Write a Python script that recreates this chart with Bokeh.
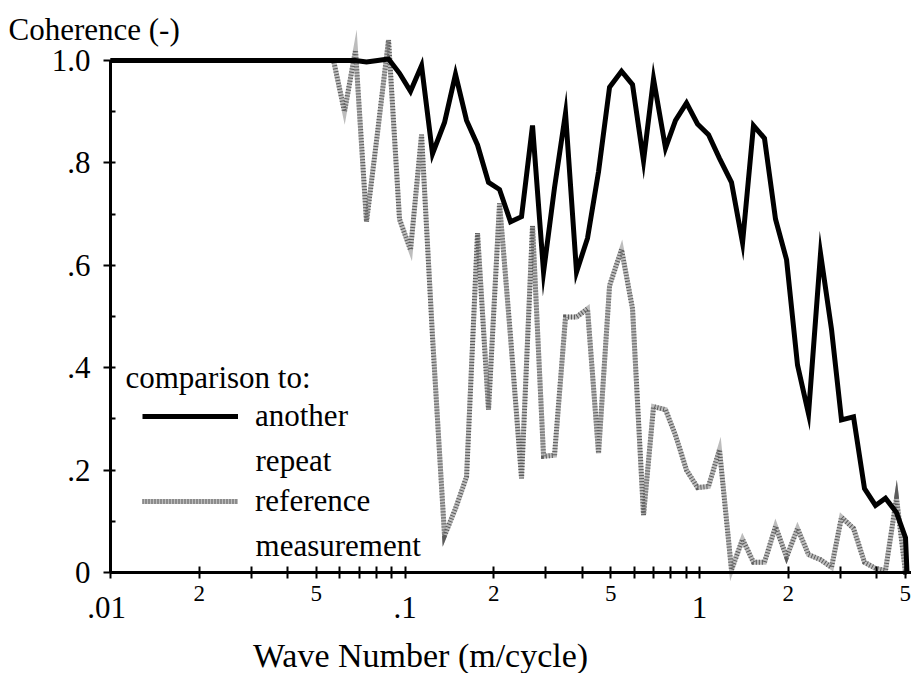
from bokeh.plotting import figure
from bokeh.models import FixedTicker, Range1d, Label, Legend, LegendItem
from bokeh.embed import file_html
from bokeh.resources import INLINE

# Wave number bands (m/cycle) and the coherence of each comparison
wave_number = [
    0.0100, 0.0110, 0.0120, 0.0131, 0.0143, 0.0156, 0.0170, 0.0185, 0.0202, 0.0220,
    0.0240, 0.0262, 0.0286, 0.0312, 0.0340, 0.0371, 0.0404, 0.0441, 0.0481, 0.0524,
    0.0572, 0.0623, 0.0679, 0.0740, 0.0807, 0.0879, 0.0958, 0.1044, 0.1138, 0.1240,
    0.1362, 0.1484, 0.1618, 0.1763, 0.1921, 0.2094, 0.2282, 0.2487, 0.2710, 0.2954,
    0.3219, 0.3508, 0.3823, 0.4166, 0.4541, 0.4949, 0.5435, 0.5923, 0.6455, 0.6980,
    0.7666, 0.8289, 0.9034, 0.9845, 1.073, 1.169, 1.284, 1.400, 1.525, 1.662,
    1.812, 1.975, 2.152, 2.345, 2.576, 2.807, 3.035, 3.334, 3.633, 3.959,
    4.281, 4.666, 5.006, 5.065,
]

another_repeat = [
    1.0, 1.0, 1.0, 1.0, 1.0, 1.0, 1.0, 1.0, 1.0, 1.0,
    1.0, 1.0, 1.0, 1.0, 1.0, 1.0, 1.0, 1.0, 1.0, 1.0,
    1.0, 1.0, 1.0, 0.997, 1.0, 1.003, 0.975, 0.94, 0.99, 0.818,
    0.879, 0.973, 0.883, 0.835, 0.762, 0.748, 0.685, 0.695, 0.873, 0.587,
    0.752, 0.897, 0.587, 0.653, 0.783, 0.948, 0.979, 0.953, 0.804, 0.964,
    0.829, 0.883, 0.917, 0.876, 0.855, 0.809, 0.762, 0.644, 0.873, 0.848,
    0.69, 0.611, 0.405, 0.31, 0.623, 0.475, 0.298, 0.304, 0.164, 0.131,
    0.145, 0.117, 0.068, 0.0,
]

reference_measurement = [
    1.0, 1.0, 1.0, 1.0, 1.0, 1.0, 1.0, 1.0, 1.0, 1.0,
    1.0, 1.0, 1.0, 1.0, 1.0, 1.0, 1.0, 1.0, 1.0, 1.0,
    1.0, 0.9, 1.02, 0.685, 0.86, 1.04, 0.69, 0.63, 0.855, 0.46,
    0.072, 0.125, 0.187, 0.663, 0.318, 0.721, 0.46, 0.184, 0.677, 0.227,
    0.229, 0.499, 0.499, 0.515, 0.233, 0.56, 0.631, 0.515, 0.112, 0.324,
    0.318, 0.268, 0.2, 0.166, 0.168, 0.24, 0.005, 0.065, 0.02, 0.02,
    0.09, 0.03, 0.086, 0.035, 0.025, 0.01, 0.108, 0.086, 0.02, 0.008,
    0.004, 0.145, 0.0, 0.0,
]

# Axis ticks and their labels
x_ticks = [0.01, 0.02, 0.03, 0.04, 0.05, 0.06, 0.07, 0.08, 0.09,
           0.1, 0.2, 0.3, 0.4, 0.5, 0.6, 0.7, 0.8, 0.9,
           1, 2, 3, 4, 5]
x_minor_label_ticks = [0.02, 0.05, 0.2, 0.5, 2, 5]
x_minor_label_text = ["2", "5", "2", "5", "2", "5"]
x_decade_ticks = [0.01, 0.1, 1]
x_decade_text = [".01", ".1", "1"]
y_ticks = [0, 0.2, 0.4, 0.6, 0.8, 1.0]
y_tick_text = ["0", ".2", ".4", ".6", ".8", "1.0"]
y_minor_ticks = [0.1, 0.3, 0.5, 0.7, 0.9]

FONT = "Liberation Serif"

# The plot area fills the page; the axes sit at fixed data positions inside it
p = figure(width=911, height=673, x_axis_type="log",
           x_range=Range1d(0.004231, 5.246), y_range=Range1d(-0.19727, 1.1172),
           output_backend="svg", toolbar_location=None,
           min_border=0, min_border_left=0, min_border_right=0,
           min_border_top=0, min_border_bottom=0)
p.outline_line_color = None
p.xgrid.visible = False
p.ygrid.visible = False
p.background_fill_color = "white"

# coherence curves
gray_base = p.line(wave_number, reference_measurement, line_color="#bdbdbd",
                   line_width=5, line_join="miter")
gray_hatch = p.line(wave_number, reference_measurement, line_color="#5c5c5c",
                    line_width=5, line_dash="1 2", line_join="miter")
black = p.line(wave_number, another_repeat, line_color="black",
               line_width=5, line_join="miter")

# x axis along coherence = 0
xa = p.xaxis[0]
xa.fixed_location = 0
xa.bounds = (0.01, 5.246)
xa.ticker = FixedTicker(ticks=x_ticks, minor_ticks=[])
overrides = {t: "" for t in x_ticks}
for t, s in zip(x_minor_label_ticks, x_minor_label_text):
    overrides[t] = s
xa.major_label_overrides = overrides
xa.axis_line_width = 3
xa.major_tick_line_width = 2
xa.major_tick_in = 6
xa.major_tick_out = 6
xa.major_label_standoff = 8
xa.major_label_text_font = FONT
xa.major_label_text_font_size = "23px"
xa.major_label_text_color = "black"

# y axis along wave number = 0.01, drawn only over 0..1
ya = p.yaxis[0]
ya.fixed_location = 0.01
ya.bounds = (0, 1)
ya.ticker = FixedTicker(ticks=y_ticks, minor_ticks=y_minor_ticks)
ya.major_label_overrides = dict(zip(y_ticks, y_tick_text))
ya.axis_line_width = 3
ya.major_tick_line_width = 2
ya.minor_tick_line_width = 2
ya.major_tick_in = 5
ya.major_tick_out = 7
ya.minor_tick_in = 5
ya.minor_tick_out = 0
ya.major_label_standoff = 13
ya.major_label_text_font = FONT
ya.major_label_text_font_size = "31px"
ya.major_label_text_color = "black"

# decade labels under the x axis
decade_offsets = [-4, 0, 0]
for t, s, dx in zip(x_decade_ticks, x_decade_text, decade_offsets):
    p.add_layout(Label(x=t, y=-0.0693, text=s, x_offset=dx,
                       text_align="center", text_baseline="middle",
                       text_font=FONT, text_font_size="31px", text_color="black"))

p.add_layout(Label(x=0.1129, y=-0.162, text="Wave Number (m/cycle)",
                   text_align="center", text_baseline="middle",
                   text_font=FONT, text_font_size="34px", text_color="black"))
p.add_layout(Label(x=0.004503, y=1.0615, text="Coherence (-)",
                   text_align="left", text_baseline="alphabetic",
                   text_font=FONT, text_font_size="31px", text_color="black"))
p.add_layout(Label(x=0.01124, y=0.381, text="comparison to:",
                   text_align="left", text_baseline="alphabetic",
                   text_font=FONT, text_font_size="31px", text_color="black"))

# legend: key lines with the first word of each entry, second words below
legend = Legend(items=[
    LegendItem(label="another", renderers=[black]),
    LegendItem(label="reference", renderers=[gray_base, gray_hatch]),
], location=(142, 152))
legend.border_line_color = None
legend.background_fill_alpha = 0
legend.margin = 0
legend.padding = 0
legend.spacing = 45
legend.glyph_width = 96
legend.glyph_height = 40
legend.label_height = 40
legend.label_standoff = 17
legend.label_text_font = FONT
legend.label_text_font_size = "31px"
legend.label_text_color = "black"
p.add_layout(legend)

second_lines = ["repeat", "measurement"]
second_line_y = [0.21875, 0.05273]
for s, yy in zip(second_lines, second_line_y):
    p.add_layout(Label(x=0.03108, y=yy, text=s,
                       text_align="left", text_baseline="alphabetic",
                       text_font=FONT, text_font_size="31px", text_color="black"))

open("out.html", "w").write(file_html(p, INLINE))
